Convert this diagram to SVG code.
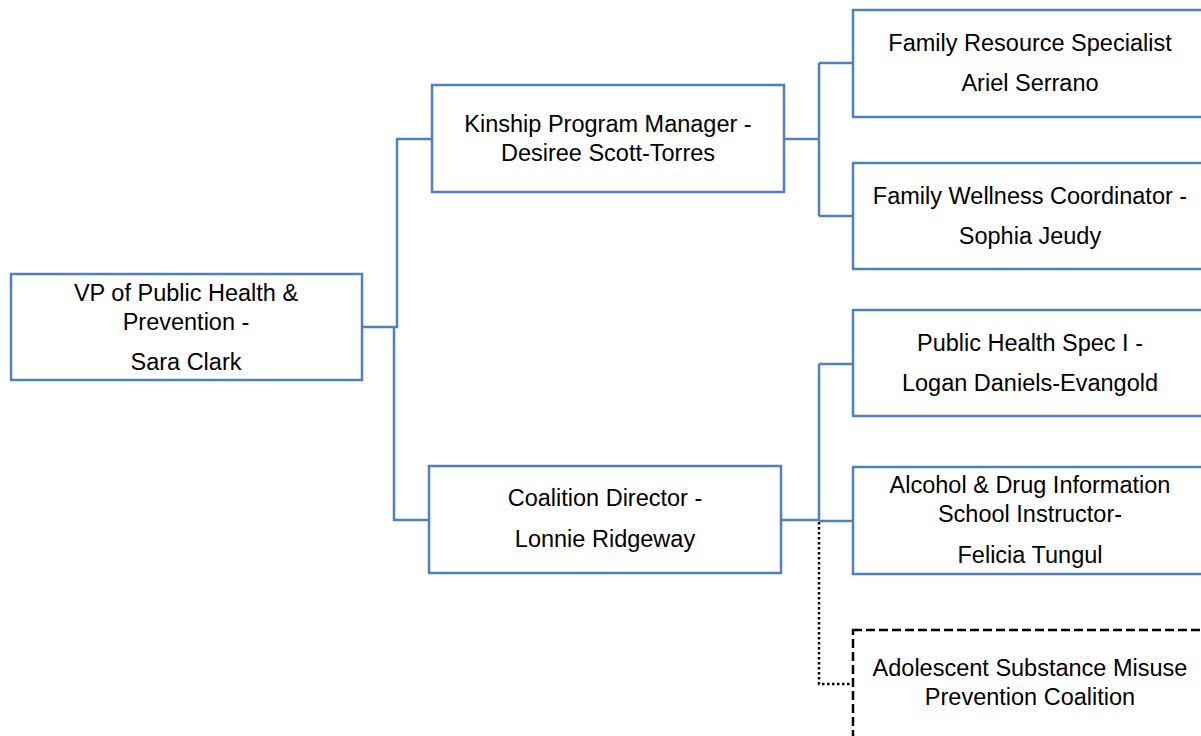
<svg xmlns="http://www.w3.org/2000/svg" width="1201" height="736" viewBox="0 0 1201 736">
<style>
.box{fill:#fff;stroke:#4f81bd;stroke-width:2.5}
.dbox{fill:#fff;stroke:#000;stroke-width:2.5;stroke-dasharray:9 4}
.c{fill:none;stroke:#4f81bd;stroke-width:2.5}
.dot{fill:none;stroke:#000;stroke-width:2.5;stroke-dasharray:2.5 2.5}
text{font-family:"Liberation Sans",Arial,sans-serif;font-size:23.5px;fill:#000;text-anchor:middle}
</style>
<rect width="1201" height="736" fill="#fff"/>
<g id="connectors">
<path class="c" d="M362,327 H397 V139 H432"/>
<path class="c" d="M394,327 V520 H429"/>
<path class="c" d="M784,139 H819 M819,63 V216 M819,63 H853 M819,216 H853"/>
<path class="c" d="M781,520 H819 M819,364 V521 M819,364 H853 M819,521 H853"/>
<path class="dot" d="M819,522 V684 H853"/>
</g>
<g id="vp"><rect class="box" x="11" y="274" width="351" height="106"/>
<text x="186" y="301">VP of Public Health &amp;</text><text x="186" y="330">Prevention -</text><text x="186" y="370">Sara Clark</text></g>
<g id="kinship"><rect class="box" x="432" y="85" width="352" height="107"/>
<text x="608" y="132">Kinship Program Manager -</text><text x="608" y="161">Desiree Scott-Torres</text></g>
<g id="coalition"><rect class="box" x="429" y="466" width="352" height="107"/>
<text x="605" y="506">Coalition Director -</text><text x="605" y="547">Lonnie Ridgeway</text></g>
<g id="resource"><rect class="box" x="853" y="10" width="354" height="107"/>
<text x="1030" y="51">Family Resource Specialist</text><text x="1030" y="91">Ariel Serrano</text></g>
<g id="wellness"><rect class="box" x="853" y="163" width="354" height="106"/>
<text x="1030" y="204">Family Wellness Coordinator -</text><text x="1030" y="244">Sophia Jeudy</text></g>
<g id="phspec"><rect class="box" x="853" y="310" width="354" height="106"/>
<text x="1030" y="351">Public Health Spec I -</text><text x="1030" y="391">Logan Daniels-Evangold</text></g>
<g id="alcohol"><rect class="box" x="853" y="467" width="354" height="107"/>
<text x="1030" y="493">Alcohol &amp; Drug Information</text><text x="1030" y="522">School Instructor-</text><text x="1030" y="563">Felicia Tungul</text></g>
<g id="adolescent"><rect class="dbox" x="853" y="630" width="354" height="110"/>
<text x="1030" y="676">Adolescent Substance Misuse</text><text x="1030" y="705">Prevention Coalition</text></g>
</svg>
